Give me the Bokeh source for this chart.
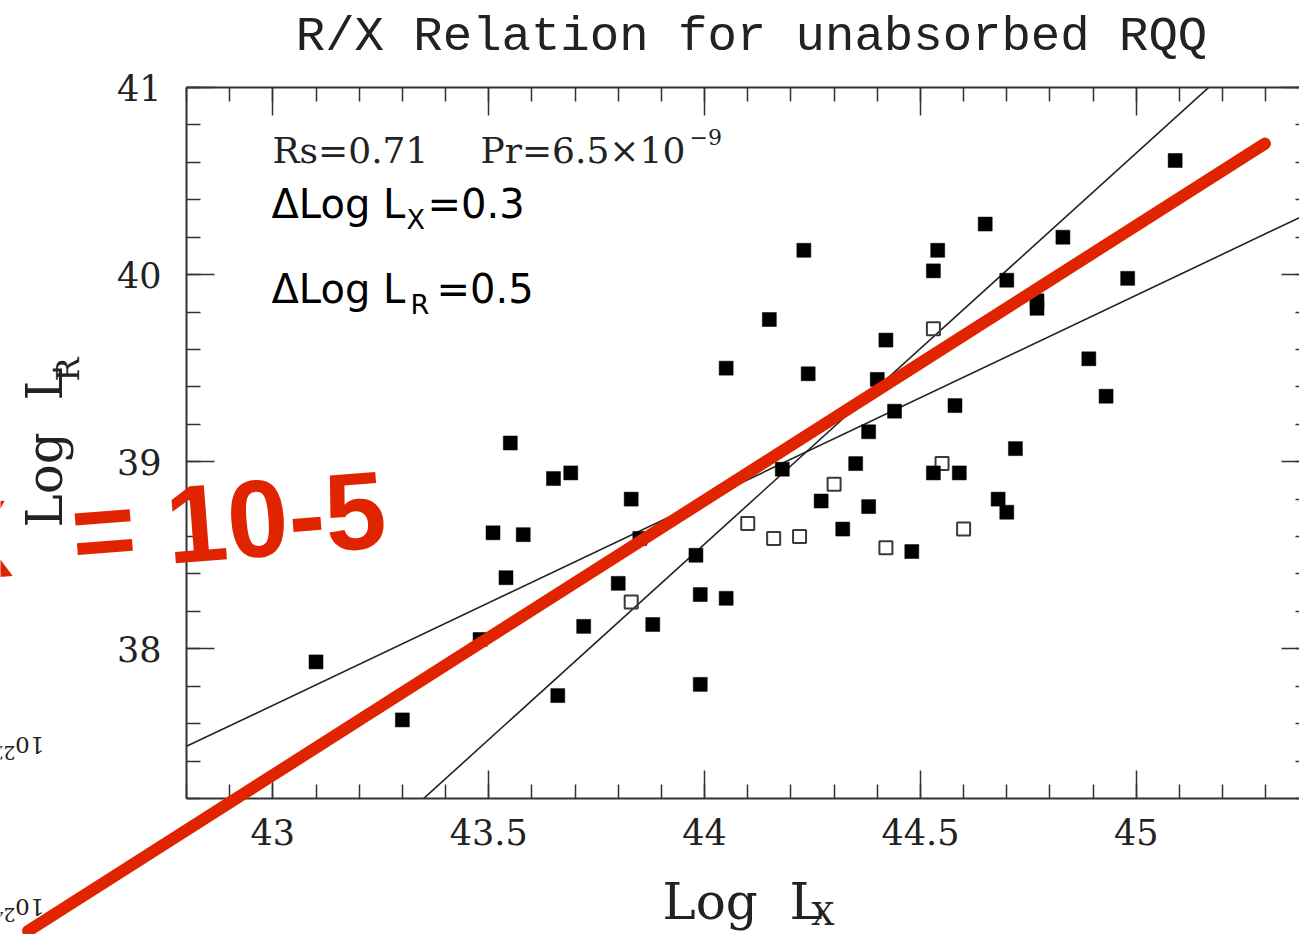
import math
from bokeh.plotting import figure
from bokeh.models import Range1d, LinearAxis, SingleIntervalTicker, Label
from bokeh.embed import file_html
from bokeh.resources import INLINE

# ---------------- data ----------------
filled_x = [43.55, 43.65, 43.69, 43.83, 43.51, 43.58, 43.54, 43.80, 43.72, 43.88,
            43.10, 43.66, 43.30, 43.48, 43.85, 43.98, 43.99, 44.05, 43.99, 44.18,
            44.35, 44.27, 44.38, 44.32, 44.48, 44.53, 44.59, 44.68, 44.70, 44.44,
            44.58, 44.72, 45.09, 44.65, 44.83, 44.54, 44.53, 44.70, 44.98, 44.77,
            44.77, 44.89, 44.93, 44.23, 44.15, 44.42, 44.05, 44.24, 44.40, 44.38]
filled_y = [39.10, 38.91, 38.94, 38.80, 38.62, 38.61, 38.38, 38.35, 38.12, 38.13,
            37.93, 37.75, 37.62, 38.05, 38.59, 38.50, 38.29, 38.27, 37.81, 38.96,
            38.99, 38.79, 38.76, 38.64, 38.52, 38.94, 38.94, 38.80, 38.73, 39.27,
            39.30, 39.07, 40.61, 40.27, 40.20, 40.13, 40.02, 39.97, 39.98, 39.86,
            39.82, 39.55, 39.35, 40.13, 39.76, 39.65, 39.50, 39.47, 39.44, 39.16]
open_x = [43.83, 44.10, 44.16, 44.22, 44.30, 44.42, 44.55, 44.60, 44.53]
open_y = [38.25, 38.67, 38.59, 38.60, 38.88, 38.54, 38.99, 38.64, 39.71]

fit_slope = [2.09, 1.096]
fit_intercept = [-53.40, -9.43]

x_tick_values = [43, 43.5, 44, 44.5, 45]
x_tick_labels = ["43", "43.5", "44", "44.5", "45"]

overlay_line_x = [42.433, 45.298]
overlay_line_y = [36.492, 40.70]

# ---------------- geometry ----------------
W, H = 1299, 934
BL, BR, BT, BB = 186, 0, 87, 136
X0, X1 = 42.8, 45.378
Y0, Y1 = 37.2, 41.0
sx = (W - BL - BR) / (X1 - X0)
sy = (H - BT - BB) / (Y1 - Y0)


def place(fig, px, py, text, font, size, angle=0.0, align="left", color="#222222",
          style="normal"):
    """Put a text whose alphabetic baseline starts at page pixel (px, py)."""
    d = 0.36 * size  # compensate baseline offset of Label rendering
    ax = px - d * math.sin(angle)
    ay = py - d * math.cos(angle)
    fig.add_layout(Label(x=X0 + (ax - BL) / sx, y=Y1 - (ay - BT) / sy, text=text,
                         text_font=font, text_font_size=f"{size}px", text_font_style=style,
                         text_align=align, text_baseline="alphabetic", angle=angle,
                         text_color=color))


# ---------------- main figure ----------------
p = figure(width=W, height=H, x_range=Range1d(X0, X1), y_range=Range1d(Y0, Y1),
           output_backend="svg", toolbar_location=None,
           min_border_left=BL, min_border_right=BR, min_border_top=BT, min_border_bottom=BB)
p.outline_line_color = None
p.xgrid.visible = False
p.ygrid.visible = False
p.background_fill_color = "white"
p.border_fill_color = "white"

AX = "#333333"


def style_axis(ax, ticker, show_labels, tick_in=28, minor_in=14, line=True):
    ax.ticker = ticker
    ax.major_tick_in = tick_in
    ax.major_tick_out = 0
    ax.minor_tick_in = minor_in
    ax.minor_tick_out = 0
    ax.major_tick_line_color = AX
    ax.major_tick_line_width = 1.5
    ax.minor_tick_line_color = AX
    ax.minor_tick_line_width = 1.5
    ax.axis_line_color = AX if line else None
    ax.axis_line_width = 2
    ax.axis_label = None
    if show_labels:
        ax.major_label_text_font = "DejaVu Serif"
        ax.major_label_text_font_size = "35px"
        ax.major_label_text_color = "#222222"
    else:
        ax.major_label_text_color = None
        ax.major_label_text_font_size = "1px"
        ax.major_label_standoff = 0


style_axis(p.xaxis[0], SingleIntervalTicker(interval=0.5, num_minor_ticks=5), True)
p.xaxis[0].major_label_standoff = 20
p.xaxis[0].major_label_overrides = {float(v): s for v, s in zip(x_tick_values, x_tick_labels)}
style_axis(p.yaxis[0], SingleIntervalTicker(interval=1, num_minor_ticks=5), True)
p.yaxis[0].major_label_standoff = 25

top_ax = LinearAxis()
style_axis(top_ax, SingleIntervalTicker(interval=0.5, num_minor_ticks=5), False)
p.add_layout(top_ax, "above")
right_ax = LinearAxis()
style_axis(right_ax, SingleIntervalTicker(interval=1, num_minor_ticks=5), False,
           tick_in=18, minor_in=4, line=False)
p.add_layout(right_ax, "right")

# fit lines
for m, b in zip(fit_slope, fit_intercept):
    xs = [X0, X1]
    ys = [m * x + b for x in xs]
    p.line(xs, ys, line_color="#222222", line_width=1.6)

# points
p.scatter(open_x, open_y, marker="square", size=13, fill_color=None,
          line_color="#3a3a3a", line_width=2)
p.scatter(filled_x, filled_y, marker="square", size=14, fill_color="black",
          line_color="black", line_width=0.5)

SERIF = "DejaVu Serif"
SANS = "DejaVu Sans"
place(p, 272, 163, "Rs=0.71", SERIF, 36)
place(p, 480, 163, "Pr=6.5×10", SERIF, 36)
place(p, 689, 144, "−9", SERIF, 22)
place(p, 271, 218, "ΔLog\u00a0L", SANS, 40, color="black")
place(p, 406, 229, "X", SANS, 27, color="black")
place(p, 427, 218, "=0.3", SANS, 40, color="black")
place(p, 271, 303, "ΔLog\u00a0L", SANS, 40, color="black")
place(p, 410, 314, "R", SANS, 27, color="black")
place(p, 436, 303, "=0.5", SANS, 40, color="black")

# ---------------- transparent overlay covering the whole page ----------------
q = figure(width=W, height=H,
           x_range=Range1d(X0 - BL / sx, X1 + BR / sx),
           y_range=Range1d(Y0 - BB / sy, Y1 + BT / sy),
           output_backend="svg", toolbar_location=None,
           x_axis_location=None, y_axis_location=None,
           min_border_left=0, min_border_right=0, min_border_top=0, min_border_bottom=0,
           styles={"position": "absolute", "left": "0px", "top": "0px"})
q.outline_line_color = None
q.background_fill_color = None
q.border_fill_color = None
q.xgrid.visible = False
q.ygrid.visible = False

place(q, 751, 54, "R/X Relation for unabsorbed RQQ", "Liberation Mono", 49, align="center")
# axis titles
place(q, 662, 919, "Log\u00a0\u00a0L", SERIF, 50)
place(q, 811, 925, "X", SERIF, 32)
place(q, 62, 527, "Log\u00a0\u00a0L", SERIF, 50, angle=math.pi / 2)
place(q, 79, 381, "R", SERIF, 32, angle=math.pi / 2)
# mirrored remnants of another slide (upside-down powers of ten)
place(q, 44, 736, "10", SERIF, 23, angle=math.pi)
place(q, 15, 746, "22", SERIF, 19, angle=math.pi)
place(q, 44, 898, "10", SERIF, 23, angle=math.pi)
place(q, 15, 908, "24", SERIF, 19, angle=math.pi)

# red hand-drawn overlay
RED = "#e12400"
q.line(overlay_line_x, overlay_line_y, line_color=RED, line_width=12, line_cap="round")
place(q, -60, 582, "X\u00a0\u00a0= 10-5", "Liberation Sans", 110, angle=0.077,
      color=RED, style="bold")

open("out.html", "w").write(file_html([p, q], INLINE))
